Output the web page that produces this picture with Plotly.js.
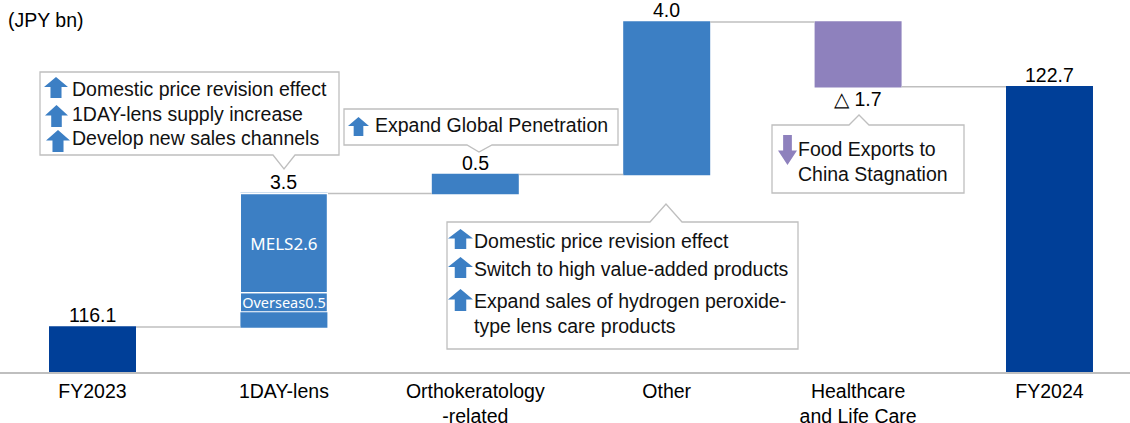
<!DOCTYPE html>
<html><head><meta charset="utf-8">
<script src="https://cdn.plot.ly/plotly-3.0.1.min.js"></script>
<style>html,body{margin:0;padding:0;background:#fff}#chart{width:1130px;height:423px}</style>
</head><body><div id="chart"></div>
<script>
// ---- data ----
const categories = ['FY2023','1DAY-lens','Orthokeratology<br>-related','Other','Healthcare<br>and Life Care','FY2024'];
const measures = ['absolute','relative','relative','relative','relative','total'];
const values = [116.1, 3.5, 0.5, 4.0, -1.7, 122.7];
const valueLabels = ['116.1','3.5','0.5','4.0','△ 1.7','122.7'];
const breakdownNames = ['MELS','Overseas'];
const breakdownValues = [2.6, 0.5];

const calloutA = ['Domestic price revision effect','1DAY-lens supply increase','Develop new sales channels'];
const calloutB = ['Expand Global Penetration'];
const calloutC = ['Domestic price revision effect','Switch to high value-added products','Expand sales of hydrogen peroxide-<br>type lens care products'];
const calloutD = ['Food Exports to<br>China Stagnation'];

// ---- styling / layout helpers ----
const FONT = 'Liberation Sans, Arial, sans-serif';
const FS = 19.5;
const W = 1130, H = 372;
const X = p => p / W;
const Y = p => 1 - p / H;
const BLUE = '#3c7fc4', NAVY = '#003f98', PURPLE = '#8e81bd', GRAY = '#bfbfbf';

const waterfall = {
  type: 'waterfall', x: categories, y: values, measure: measures,
  width: 0.4545,
  increasing: {marker: {color: BLUE}},
  decreasing: {marker: {color: PURPLE}},
  totals: {marker: {color: NAVY}},
  connector: {mode: 'between', line: {color: GRAY, width: 1.5}},
  hoverinfo: 'skip'
};

// breakdown boxes inside the 1DAY-lens bar
const top1day = values[0] + values[1];
const traces = [waterfall];
let cursor = top1day;
breakdownNames.forEach((n, i) => {
  const v = breakdownValues[i];
  traces.push({
    type: 'bar', x: [categories[1]], y: [v], base: [cursor - v], width: 0.4545,
    text: [n + v.toFixed(1)], textposition: 'inside', insidetextanchor: 'middle',
    constraintext: 'none',
    textfont: {family: 'Noto Sans, sans-serif', size: i === 0 ? 17 : 14.5, color: '#fff'},
    marker: {color: 'rgba(0,0,0,0)', line: {color: '#fff', width: 1.2}},
    hoverinfo: 'skip', showlegend: false
  });
  cursor -= v;
});

const shapes = [];
const annotations = [];

// value labels at the end of each waterfall step
let running = 0;
categories.forEach((c, i) => {
  let end;
  if (measures[i] === 'absolute') end = values[i];
  else if (measures[i] === 'total') end = running;
  else end = running + values[i];
  const neg = measures[i] === 'relative' && values[i] < 0;
  annotations.push({xref: 'x', yref: 'y', x: c, y: end, showarrow: false,
    yanchor: neg ? 'top' : 'bottom', yshift: neg ? 1 : -1,
    text: valueLabels[i], font: {family: FONT, size: FS, color: '#000'}});
  running = end;
});

function calloutPath(x0, y0, x1, y1, nL, nR, tx, ty, side) {
  let pts;
  if (side === 'bottom') {
    pts = [[x0,y0],[x1,y0],[x1,y1],[nR,y1],[tx,ty],[nL,y1],[x0,y1]];
  } else {
    pts = [[x0,y0],[nL,y0],[tx,ty],[nR,y0],[x1,y0],[x1,y1],[x0,y1]];
  }
  return 'M' + pts.map(p => X(p[0]).toFixed(5) + ',' + Y(p[1]).toFixed(5)).join(' L') + ' Z';
}
function arrowPath(x0, x1, yTip, yBase, dir) {
  const cx = (x0 + x1) / 2, sw = (x1 - x0) * 0.46;
  const ym = dir === 'up' ? yTip + (yBase - yTip) * 0.48 : yTip - (yTip - yBase) * 0.48;
  const pts = [[cx, yTip],[x1, ym],[cx + sw/2, ym],[cx + sw/2, yBase],[cx - sw/2, yBase],[cx - sw/2, ym],[x0, ym]];
  return 'M' + pts.map(p => X(p[0]).toFixed(5) + ',' + Y(p[1]).toFixed(5)).join(' L') + ' Z';
}

function addCallout(box, lines, arrows, textX, ys, arrowColor, dir) {
  shapes.push({type: 'path', xref: 'paper', yref: 'paper',
    path: calloutPath(...box), line: {color: GRAY, width: 1.3}, fillcolor: '#fff', layer: 'above'});
  lines.forEach((t, i) => {
    annotations.push({xref: 'paper', yref: 'paper', x: X(textX), y: Y(ys[i]),
      xanchor: 'left', yanchor: 'middle', showarrow: false, align: 'left',
      text: t, font: {family: FONT, size: FS, color: '#111'}});
  });
  arrows.forEach(a => {
    shapes.push({type: 'path', xref: 'paper', yref: 'paper',
      path: arrowPath(a[0], a[1], a[2], a[3], dir), line: {width: 0}, fillcolor: arrowColor, layer: 'above'});
  });
}

addCallout([40,72,339,155,273,295,284,169,'bottom'], calloutA,
  [[44,68,77,98],[45,68,105,127],[46,70,130,152]], 70, [89,114,138], BLUE, 'up');
addCallout([344,109,618,145,467,492,479,152,'bottom'], calloutB,
  [[348,369,117,136]], 373, [125], BLUE, 'up');
addCallout([447,222,798,349,650,682,666,204,'top'], calloutC,
  [[448,473,229,249],[448,473,257,278],[448,473,289,311]], 472, [241,269,313], BLUE, 'up');
addCallout([772,125,964,193,849,869,859,115,'top'], calloutD,
  [[778,797,165,135]], 796, [161.5], PURPLE, 'down');

annotations.push({xref: 'paper', yref: 'paper', x: X(6), y: Y(20), xanchor: 'left', yanchor: 'middle',
  showarrow: false, text: '(JPY bn)', font: {family: FONT, size: FS, color: '#000'}});

const layout = {
  width: 1130, height: 423,
  margin: {l: 0, r: 0, t: 0, b: 51, pad: 0},
  paper_bgcolor: '#fff', plot_bgcolor: '#fff',
  showlegend: false, barmode: 'overlay',
  font: {family: FONT, size: FS, color: '#000'},
  xaxis: {type: 'category', range: [-0.4833, 5.4206], showline: true, linecolor: GRAY, linewidth: 1.5,
    ticks: '', showgrid: false, zeroline: false, ticklabelstandoff: 1,
    tickfont: {family: FONT, size: 19.5, color: '#000'}},
  yaxis: {visible: false, range: [114.92, 124.677], showgrid: false, zeroline: false},
  shapes: shapes, annotations: annotations
};

Plotly.newPlot('chart', traces, layout, {staticPlot: true, displayModeBar: false});
</script></body></html>
